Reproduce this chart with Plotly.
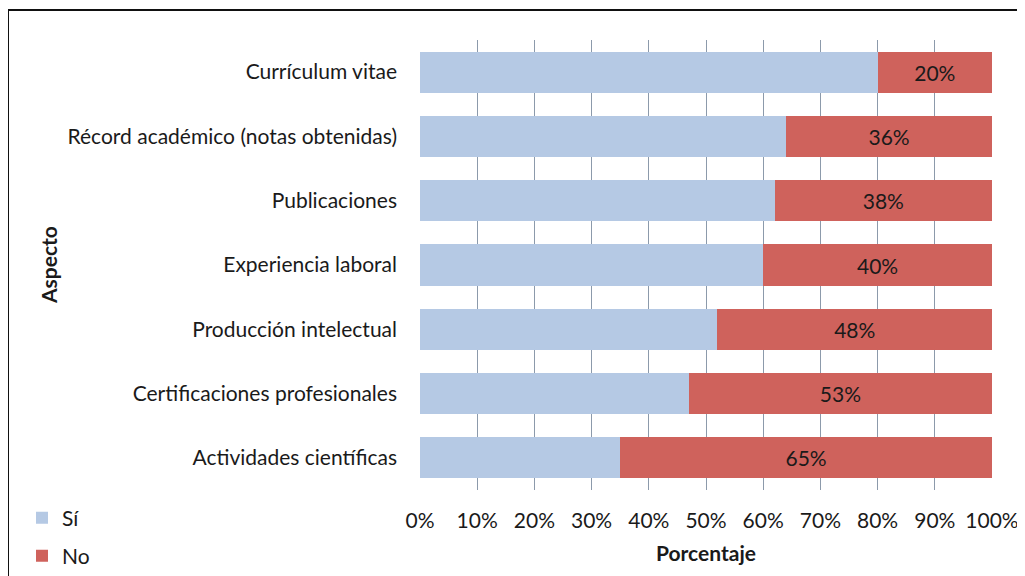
import plotly.graph_objects as go

categories = ["Currículum vitae", "Récord académico (notas obtenidas)", "Publicaciones",
              "Experiencia laboral", "Producción intelectual", "Certificaciones profesionales",
              "Actividades científicas"]
si_values = [80, 64, 62, 60, 52, 47, 35]
no_values = [20, 36, 38, 40, 48, 53, 65]
no_labels = ["20%", "36%", "38%", "40%", "48%", "53%", "65%"]
tick_vals = [0, 10, 20, 30, 40, 50, 60, 70, 80, 90, 100]
tick_text = ["0%", "10%", "20%", "30%", "40%", "50%", "60%", "70%", "80%", "90%", "100%"]

FONT = "Lato"
FS = 21
OFF = 8  # default page body margin
# target positions in screenshot pixels
L, R, T, B = 420, 992, 40, 490
W, H = 1025 - OFF, 576 - OFF

def px_x(p):
    return (p - L) / (R - L)

def px_y(p):
    return (B - p) / (B - T)

def cx(p):
    return (p - OFF) / W

def cy(p):
    return 1 - (p - OFF) / H

fig = go.Figure()
fig.add_trace(go.Bar(y=categories, x=si_values, orientation="h", name="Sí",
                     marker=dict(color="#B5C9E4", line=dict(width=0)),
                     legend="legend", hoverinfo="skip"))
fig.add_trace(go.Bar(y=categories, x=no_values, orientation="h", name="No",
                     marker=dict(color="#CF625C", line=dict(width=0)),
                     text=no_labels, texttemplate="%{text}", textposition="inside",
                     insidetextanchor="middle",
                     textfont=dict(family=FONT, size=FS, color="#1a1a1a"),
                     legend="legend2", hoverinfo="skip"))

fig.update_layout(
    barmode="stack", bargap=0.36,
    width=W, height=H,
    margin=dict(l=L - OFF, r=1025 - R, t=T - OFF, b=576 - B, autoexpand=False),
    paper_bgcolor="white", plot_bgcolor="white",
    font=dict(family=FONT, size=FS, color="#1a1a1a"),
    uniformtext=dict(minsize=10, mode="show"),
    legend=dict(xref="container", yref="container", x=cx(22), y=cy(518),
                xanchor="left", yanchor="middle",
                font=dict(size=FS), bgcolor="rgba(0,0,0,0)"),
    legend2=dict(xref="container", yref="container", x=cx(22), y=cy(556),
                 xanchor="left", yanchor="middle",
                 font=dict(size=FS), bgcolor="rgba(0,0,0,0)"),
    xaxis=dict(range=[0, 100], tickvals=tick_vals, ticktext=tick_text,
               showgrid=True, gridcolor="#8C9AAB", gridwidth=1, automargin=False,
               zeroline=False, showline=False, ticks="", ticklabelstandoff=16,
               tickfont=dict(size=FS)),
    yaxis=dict(autorange="reversed", showgrid=False, zeroline=False, showline=False,
               automargin=False,
               ticks="", ticklabelstandoff=22, tickfont=dict(size=FS)),
    showlegend=True,
)

fig.add_annotation(text="<b>Aspecto</b>", xref="paper", yref="paper",
                   x=px_x(48), y=px_y(265), textangle=-90, showarrow=False,
                   xanchor="center", yanchor="middle", font=dict(size=FS))
fig.add_annotation(text="<b>Porcentaje</b>", xref="paper", yref="paper",
                   x=px_x(706), y=px_y(552), showarrow=False,
                   xanchor="center", yanchor="middle", font=dict(size=FS))

fig.add_shape(type="rect", xref="paper", yref="paper",
              x0=px_x(8), x1=px_x(1040), y0=px_y(600), y1=px_y(10),
              line=dict(color="#111", width=2), layer="above")

fig.write_html("out.html")
